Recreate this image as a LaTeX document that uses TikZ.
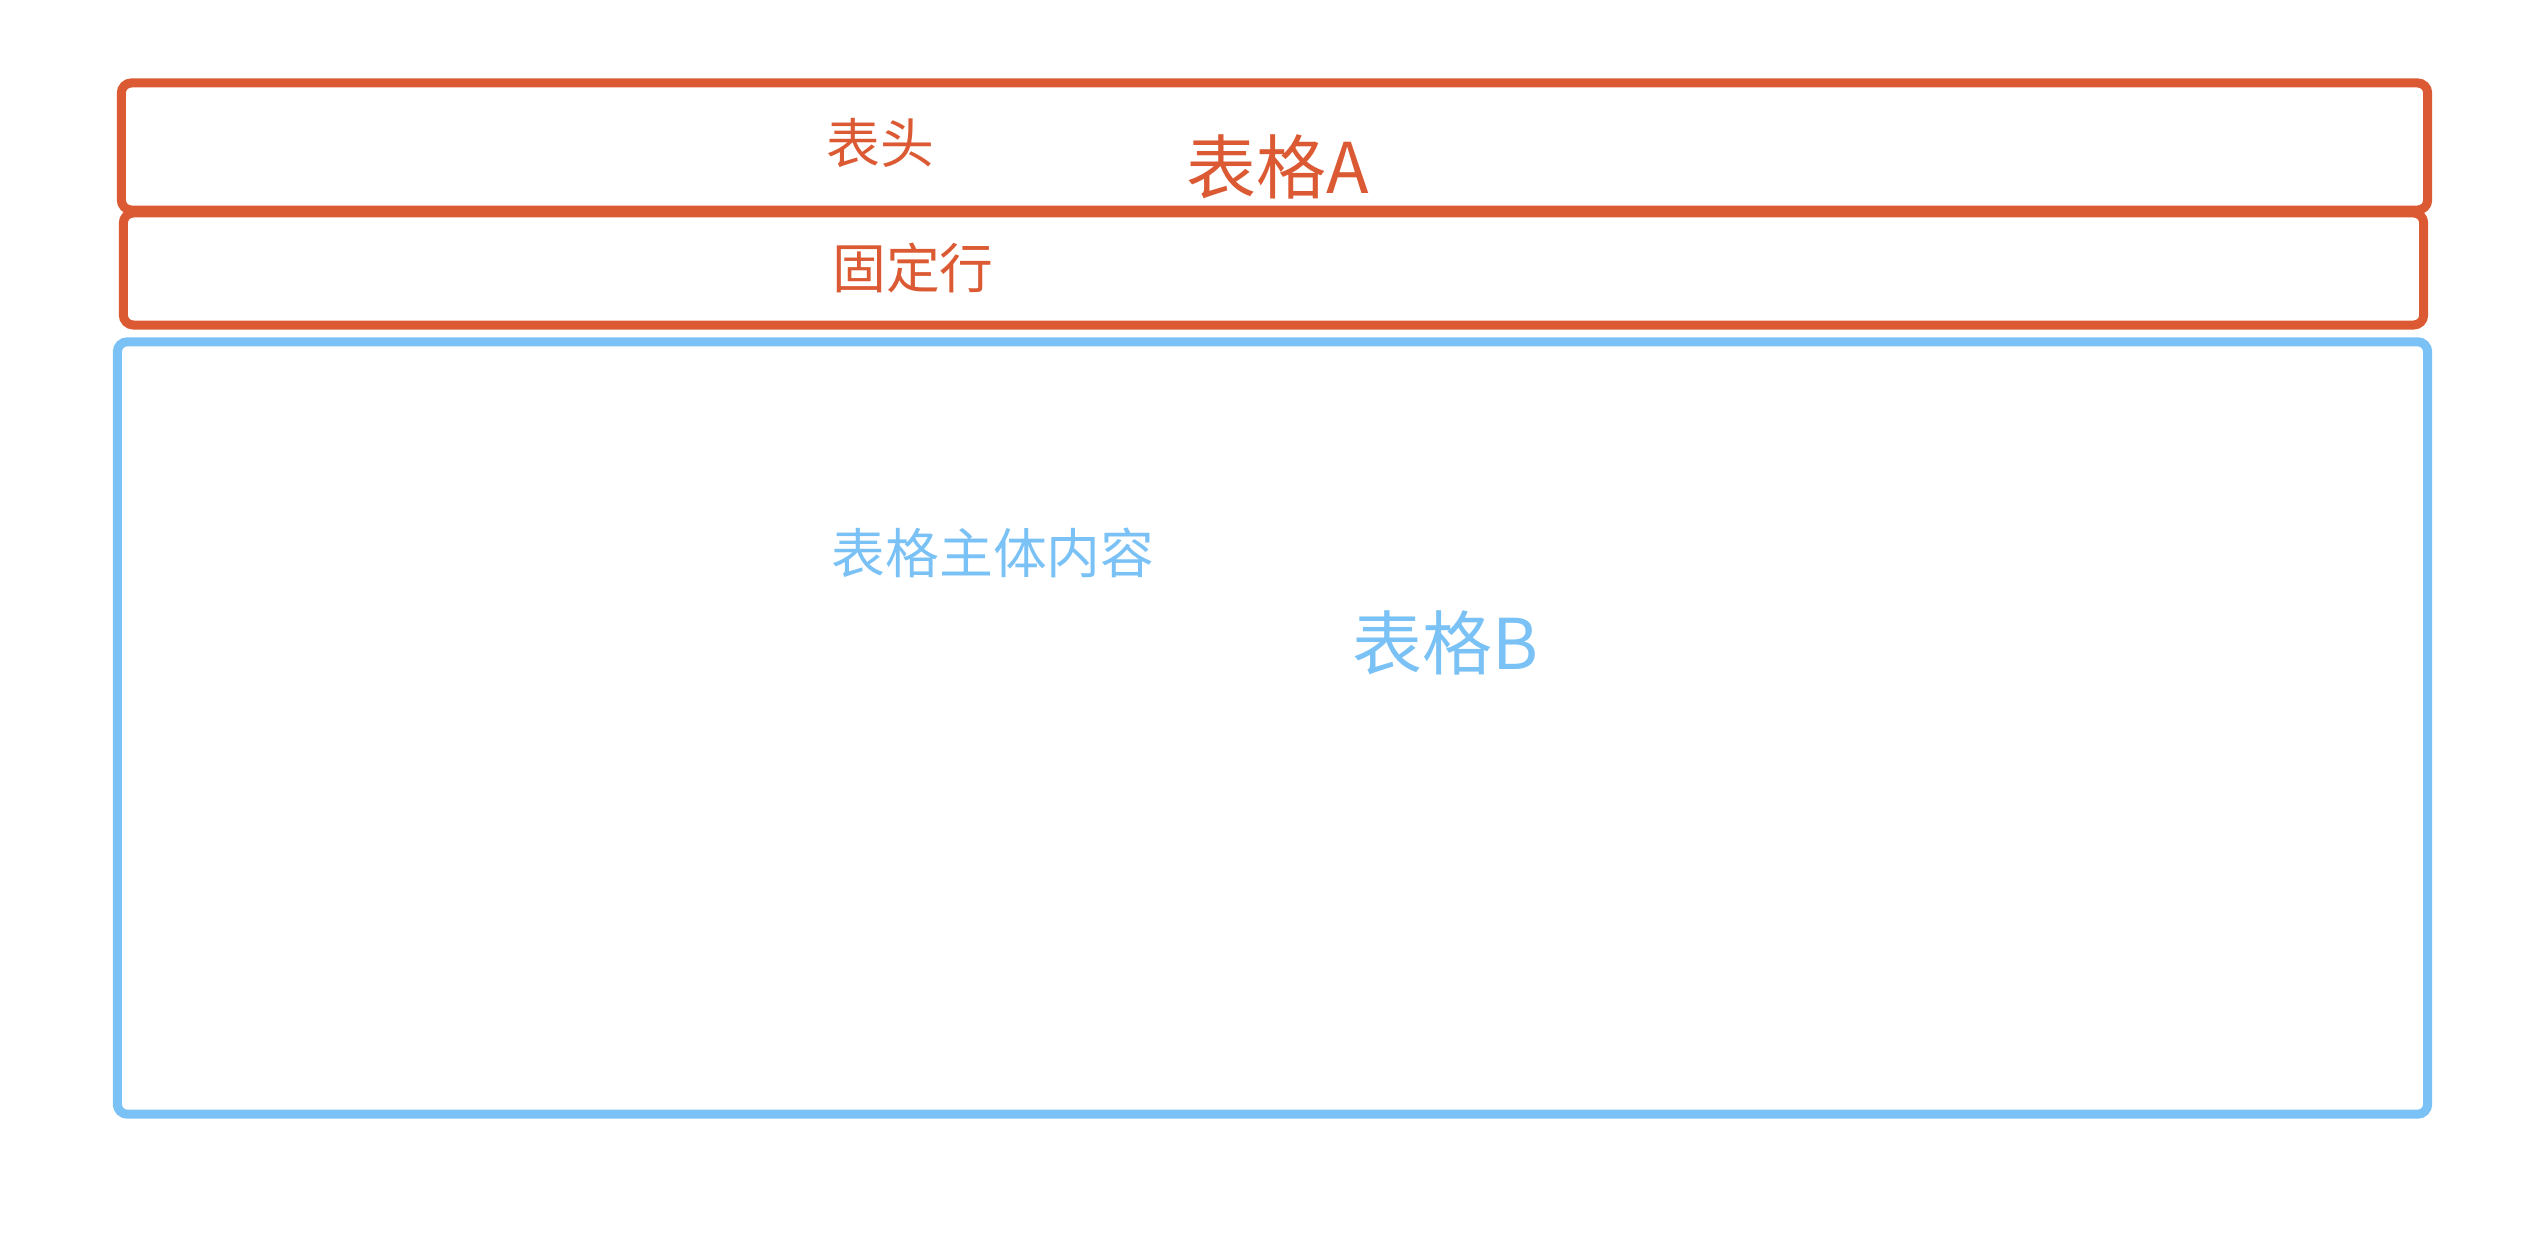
\documentclass[tikz,border=0pt]{standalone}
\usepackage{fontspec}
\setmainfont{Noto Sans CJK SC}
\usetikzlibrary{positioning}

\definecolor{tablered}{RGB}{219,90,52}
\definecolor{tableblue}{RGB}{122,193,245}

\begin{document}
\begin{tikzpicture}[x=0.01cm, y=-0.01cm,
    box/.style={draw, rounded corners=0.1cm, line width=0.09cm, inner sep=0pt},
    small/.style={font=\fontsize{15.3pt}{18pt}\selectfont},
    big/.style={font=\fontsize{19.9pt}{24pt}\selectfont}]
                    \useasboundingbox (0,0) rectangle (2548,1246);
                    \node[box, tablered, minimum width=23.05cm, minimum height=1.27cm] (head) at (1274.5,146.5) {};
                    \node[box, tablered, minimum width=22.99cm, minimum height=1.12cm] (fixed) at (1273.5,269) {};
                    \node[box, tableblue, minimum width=23.09cm, minimum height=7.72cm] (body) at (1272.5,728) {};
                    \node[small, tablered] (headlabel) at (880,143) {表头};
                    \node[big, tablered] (nameA) at (1278,167) {表格A};
                    \node[small, tablered] (fixedlabel) at (913,268) {固定行};
                    \node[small, tableblue] (bodylabel) at (993,553) {表格主体内容};
                    \node[big, tableblue] (nameB) at (1445,643) {表格B};
                \end{tikzpicture}
\end{document}
